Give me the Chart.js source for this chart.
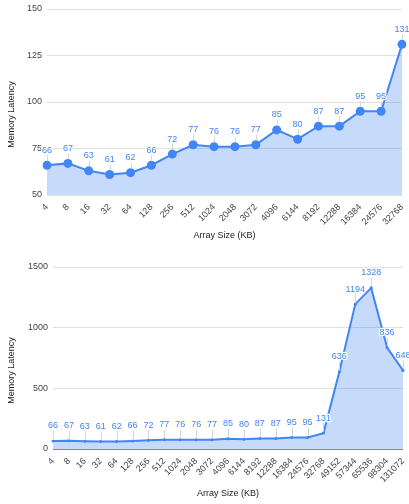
<!DOCTYPE html>
<html>
<head>
<meta charset="utf-8">
<script src="https://cdn.jsdelivr.net/npm/chart.js@4"></script>
<style>
  html, body { margin: 0; padding: 0; background: #fff; }
  .box { position: absolute; left: 0; width: 409px; }
</style>
</head>
<body>
<div class="box" style="top:0;height:250px"><canvas id="top"></canvas></div>
<div class="box" style="top:250px;height:254px"><canvas id="bottom"></canvas></div>
<script>
const sizes = ['4', '8', '16', '32', '64', '128', '256', '512', '1024', '2048', '3072', '4096',
  '6144', '8192', '12288', '16384', '24576', '32768', '49152', '57344', '65536', '98304', '131072'];
const latency = [66, 67, 63, 61, 62, 66, 72, 77, 76, 76, 77, 85, 80, 87, 87, 95, 95, 131,
  636, 1194, 1328, 836, 648];
const smallCount = 18; // first chart stops at 32768 KB

const blue = '#4285f4';
const font = { family: 'Liberation Sans, Arial, sans-serif', size: 9 };

// value labels with a short stem, like the annotations in the original
const pointLabels = {
  id: 'pointLabels',
  afterDatasetsDraw(chart) {
    const ctx = chart.ctx;
    const meta = chart.getDatasetMeta(0);
    const vals = chart.data.datasets[0].data;
    const r = chart.data.datasets[0].pointRadius;
    ctx.save();
    ctx.font = '9px Liberation Sans, Arial, sans-serif';
    ctx.textAlign = 'center';
    ctx.textBaseline = 'middle';
    meta.data.forEach((pt, i) => {
      ctx.strokeStyle = '#d6d6d6';
      ctx.lineWidth = 1;
      ctx.beginPath();
      ctx.moveTo(Math.round(pt.x) + 0.5, pt.y - r);
      ctx.lineTo(Math.round(pt.x) + 0.5, pt.y - 10);
      ctx.stroke();
      const txt = String(vals[i]);
      ctx.strokeStyle = '#fff';
      ctx.lineWidth = 2.5;
      ctx.lineJoin = 'round';
      ctx.strokeText(txt, pt.x, pt.y - 15);
      ctx.fillStyle = blue;
      ctx.fillText(txt, pt.x, pt.y - 15);
    });
    ctx.restore();
  }
};

function makeChart(id, labels, values, opts) {
  return new Chart(document.getElementById(id), {
    type: 'line',
    data: {
      labels,
      datasets: [{
        data: values,
        borderColor: blue,
        backgroundColor: 'rgba(66,133,244,0.3)',
        borderWidth: 2,
        fill: 'start',
        tension: 0,
        pointRadius: opts.radius,
        pointBackgroundColor: blue,
        pointBorderWidth: 0
      }]
    },
    options: {
      responsive: true,
      maintainAspectRatio: false,
      animation: false,
      layout: { padding: opts.padding },
      plugins: { legend: { display: false }, tooltip: { enabled: false } },
      scales: {
        x: {
          offset: false,
          grid: { display: false },
          border: { display: false },
          ticks: { font, color: '#444', autoSkip: false, minRotation: 45, maxRotation: 45, padding: -1 },
          title: { display: true, text: 'Array Size (KB)', font, color: '#222', padding: { top: 0, bottom: opts.xTitlePad } },
          afterFit: s => { s.height = 55; s.paddingLeft = 0; s.paddingRight = 0; }
        },
        y: {
          min: opts.min, max: opts.max,
          grid: { color: opts.gridColor, drawTicks: false },
          border: { display: false },
          ticks: { font, color: '#444', stepSize: opts.step, padding: 5, callback: v => String(v) },
          title: { display: true, text: 'Memory Latency' + '\u00a0'.repeat(10), font, color: '#222', padding: { top: 6.6, bottom: 0 } },
          afterFit: s => { s.width = opts.yWidth; s.paddingTop = 0; s.paddingBottom = 0; }
        }
      }
    },
    plugins: [pointLabels]
  });
}

makeChart('top', sizes.slice(0, smallCount), latency.slice(0, smallCount), {
  radius: 4.5, min: 50, max: 150, step: 25, yWidth: 47, xTitlePad: 8.6,
  padding: { top: 9, right: 7, bottom: 0, left: 0 },
  gridColor: '#e0e0e0'
});

makeChart('bottom', sizes, latency, {
  radius: 1.5, min: 0, max: 1500, step: 500, yWidth: 53, xTitlePad: 4.6,
  padding: { top: 17, right: 6, bottom: 0, left: 0 },
  gridColor: ctx => ctx.tick && ctx.tick.value === 0 ? '#888' : '#e0e0e0'
});
</script>
</body>
</html>
